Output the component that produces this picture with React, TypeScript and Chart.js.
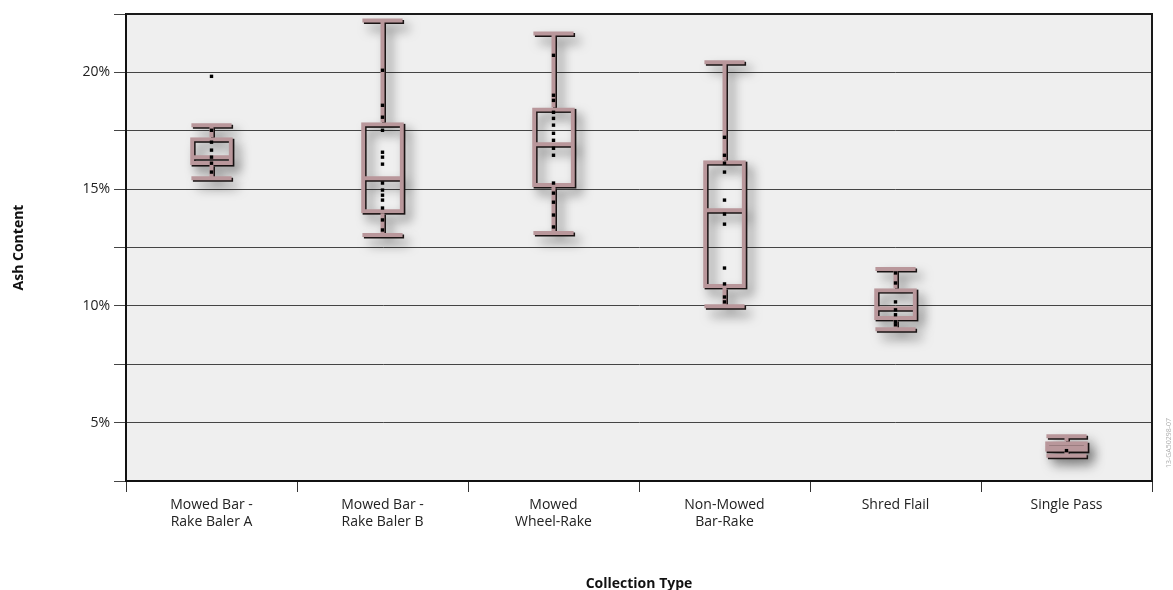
import React, { useEffect, useRef } from 'react';
import { Chart, registerables } from 'chart.js';

Chart.register(...registerables);

// ---- data ----
const CATEGORIES = [
  'Mowed Bar - Rake Baler A',
  'Mowed Bar - Rake Baler B',
  'Mowed Wheel-Rake',
  'Non-Mowed Bar-Rake',
  'Shred Flail',
  'Single Pass',
];
const TICK_LINES = [
  ['Mowed Bar -', 'Rake Baler A'],
  ['Mowed Bar -', 'Rake Baler B'],
  ['Mowed', 'Wheel-Rake'],
  ['Non-Mowed', 'Bar-Rake'],
  ['Shred Flail'],
  ['Single Pass'],
];
const WHISKER_LOW = [15.47, 13.03, 13.12, 9.98, 9.0, 3.58];
const Q1 = [16.03, 13.97, 15.09, 10.77, 9.4, 3.75];
const MEDIAN = [16.37, 15.47, 16.92, 14.1, 9.9, 3.95];
const Q3 = [17.22, 17.86, 18.5, 16.24, 10.76, 4.2];
const WHISKER_HIGH = [17.74, 22.22, 21.67, 20.43, 11.58, 4.42];

const POINTS_A = [19.83, 17.52, 17.01, 16.67, 16.37, 16.11, 15.73];
const POINTS_B = [20.09, 18.59, 18.08, 17.52, 16.58, 16.37, 16.07, 15.26, 14.96, 14.74, 14.53, 14.19, 13.68, 13.25];
const POINTS_C = [20.73, 19.02, 18.8, 18.29, 18.03, 17.74, 17.39, 17.09, 16.75, 16.45, 15.26, 14.83, 14.44, 13.89, 13.38];
const POINTS_D = [17.22, 16.45, 16.11, 15.73, 14.53, 13.93, 13.5, 11.62, 10.94, 10.38, 10.17];
const POINTS_E = [11.41, 10.98, 10.17, 9.83, 9.62, 9.32, 9.19];
const POINTS_F = [3.8];
const POINTS = [POINTS_A, POINTS_B, POINTS_C, POINTS_D, POINTS_E, POINTS_F];

const Y_MIN = 2.5;
const Y_MAX = 22.5;
const Y_STEP = 2.5;

const ROSY = '#b9979b';
const FONT = "'Open Sans', 'Noto Sans', sans-serif";

// ---- drawing helpers ----
type Seg = [number, number, number, number];

function boxSegments(chart: any, i: number): { rect: number[]; segs: Seg[] } | null {
  const meta = chart.getDatasetMeta(1);
  const el: any = meta && meta.data[i];
  if (!el) return null;
  const y = chart.scales.y;
  const w = el.width;
  const cx = el.x;
  const top = Math.min(el.y, el.base);
  const bot = Math.max(el.y, el.base);
  const left = cx - w / 2;
  const capHalf = w * 0.47;
  const yHi = y.getPixelForValue(WHISKER_HIGH[i]);
  const yLo = y.getPixelForValue(WHISKER_LOW[i]);
  const yMed = y.getPixelForValue(MEDIAN[i]);
  const segs: Seg[] = [];
  if (yHi < top) segs.push([cx, top, cx, yHi]);
  if (yLo > bot) segs.push([cx, bot, cx, yLo]);
  segs.push([cx - capHalf, yHi, cx + capHalf, yHi]);
  segs.push([cx - capHalf, yLo, cx + capHalf, yLo]);
  segs.push([left + 2, yMed, left + w - 2, yMed]);
  return { rect: [left + 2, top + 2, w - 4, bot - top - 4], segs };
}

const boxPlugin = {
  id: 'boxDecor',
  beforeDraw(chart: any) {
    const { ctx, chartArea: a } = chart;
    ctx.save();
    ctx.fillStyle = '#efefef';
    ctx.fillRect(a.left, a.top, a.right - a.left, a.bottom - a.top);
    ctx.restore();
  },
  beforeDatasetsDraw(chart: any) {
    const ctx = chart.ctx;
    for (let i = 0; i < CATEGORIES.length; i++) {
      const s = boxSegments(chart, i);
      if (!s) continue;
      ctx.save();
      ctx.shadowColor = 'rgba(0,0,0,0.55)';
      ctx.shadowBlur = 11;
      ctx.shadowOffsetX = 5;
      ctx.shadowOffsetY = 6;
      ctx.strokeStyle = '#1a1414';
      ctx.lineWidth = 4;
      ctx.translate(1.5, 1.5);
      ctx.strokeRect(s.rect[0], s.rect[1], s.rect[2], s.rect[3]);
      ctx.beginPath();
      for (const g of s.segs) {
        ctx.moveTo(g[0], g[1]);
        ctx.lineTo(g[2], g[3]);
      }
      ctx.stroke();
      ctx.restore();
    }
  },
  afterDatasetDraw(chart: any, args: any) {
    if (args.index !== 1) return;
    const ctx = chart.ctx;
    for (let i = 0; i < CATEGORIES.length; i++) {
      const s = boxSegments(chart, i);
      if (!s) continue;
      ctx.save();
      ctx.strokeStyle = ROSY;
      ctx.lineWidth = 4;
      ctx.beginPath();
      for (const g of s.segs) {
        ctx.moveTo(g[0], g[1]);
        ctx.lineTo(g[2], g[3]);
      }
      ctx.stroke();
      ctx.restore();
    }
  },
  afterDraw(chart: any) {
    const { ctx, chartArea: a } = chart;
    ctx.save();
    ctx.strokeStyle = '#1a1a1a';
    ctx.lineWidth = 2;
    ctx.beginPath();
    ctx.moveTo(a.left, a.top);
    ctx.lineTo(a.right, a.top);
    ctx.lineTo(a.right, a.bottom);
    ctx.stroke();
    ctx.translate(1169, 443);
    ctx.rotate(-Math.PI / 2);
    ctx.fillStyle = '#b0b0b0';
    ctx.font = `7px ${FONT}`;
    ctx.textAlign = 'center';
    ctx.textBaseline = 'middle';
    ctx.fillText('13-GA50298-07', 0, 0);
    ctx.restore();
  },
};

export default function App() {
  const ref = useRef<HTMLCanvasElement | null>(null);

  useEffect(() => {
    document.body.style.margin = '0';
    if (!ref.current) return;
    const pointData: { x: string; y: number }[] = [];
    POINTS.forEach((arr, i) => arr.forEach((v) => pointData.push({ x: CATEGORIES[i], y: v })));

    const chart = new Chart(ref.current, {
      type: 'bar',
      data: {
        labels: CATEGORIES,
        datasets: [
          {
            type: 'line',
            label: 'Samples',
            data: pointData as any,
            showLine: false,
            pointStyle: 'rect',
            pointRadius: 2.4,
            pointBackgroundColor: '#000',
            pointBorderWidth: 0,
            order: 0,
          } as any,
          {
            type: 'bar',
            label: 'Box',
            data: CATEGORIES.map((_, i) => [Q1[i], Q3[i]]) as any,
            backgroundColor: 'rgba(0,0,0,0)',
            borderColor: ROSY,
            borderWidth: 4,
            borderSkipped: false,
            barPercentage: 1,
            categoryPercentage: 0.25,
            order: 1,
          } as any,
        ],
      },
      options: {
        animation: false,
        responsive: true,
        maintainAspectRatio: false,
        layout: { padding: { top: 14, right: 21, left: 0, bottom: 0 } },
        plugins: { legend: { display: false }, tooltip: { enabled: false } },
        scales: {
          x: {
            offset: true,
            grid: { offset: true, drawOnChartArea: false, color: '#333', tickLength: 11 },
            border: { color: '#111', width: 2 },
            ticks: {
              autoSkip: false,
              maxRotation: 0,
              padding: 5,
              color: '#222',
              font: { family: FONT, size: 14 },
              callback: (_v: any, i: number) => TICK_LINES[i],
            },
            title: {
              display: true,
              text: 'Collection Type',
              color: '#111',
              font: { family: FONT, size: 14, weight: 'bold' },
              padding: { top: 0, bottom: -2 },
            },
            afterFit: (s: any) => {
              s.height = 109;
            },
          },
          y: {
            min: Y_MIN,
            max: Y_MAX,
            grid: { color: '#444', lineWidth: 1, tickLength: 12 },
            border: { color: '#111', width: 2 },
            ticks: {
              stepSize: Y_STEP,
              padding: 4,
              color: '#222',
              font: { family: FONT, size: 14 },
              callback: (v: any) => (Math.abs(Number(v) % 5) < 1e-6 ? `${v}%` : ''),
            },
            title: {
              display: true,
              text: 'Ash Content',
              color: '#111',
              font: { family: FONT, size: 14, weight: 'bold' },
              padding: { top: 11, bottom: 0 },
            },
            afterFit: (s: any) => {
              s.width = 126;
            },
          },
        },
      },
      plugins: [boxPlugin],
    });
    return () => chart.destroy();
  }, []);

  return (
    <div style={{ width: 1173, height: 590, position: 'relative' }}>
      <canvas ref={ref} />
    </div>
  );
}
